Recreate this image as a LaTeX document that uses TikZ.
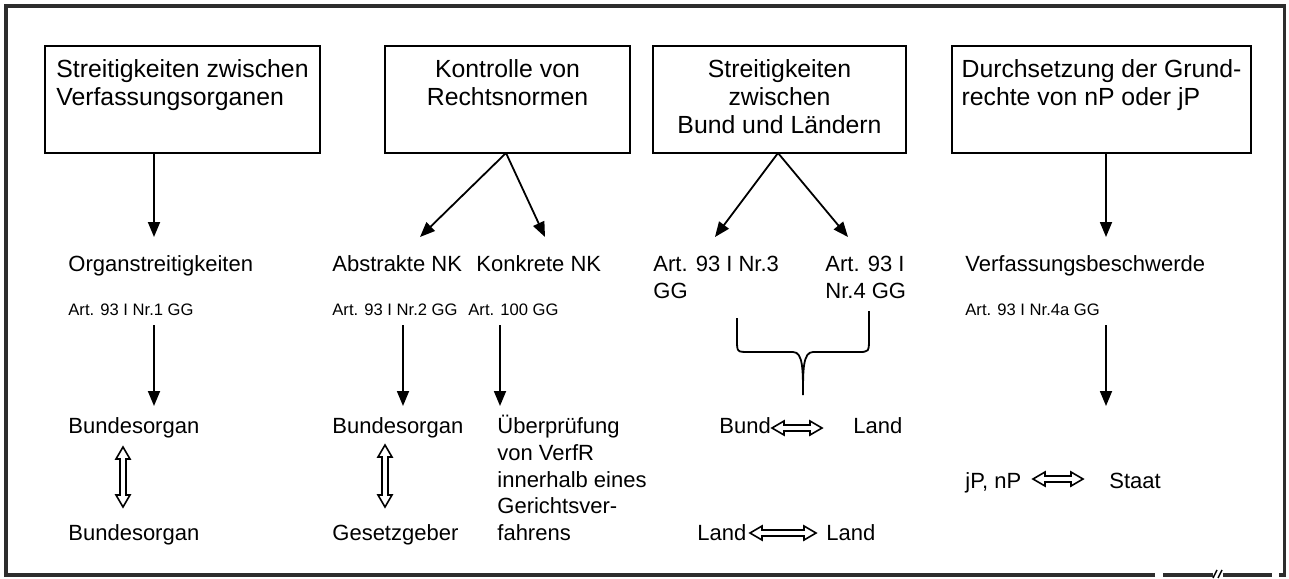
\documentclass[tikz,border=0pt]{standalone}
\usepackage{fontspec}
\setmainfont{Liberation Sans}
\usetikzlibrary{arrows.meta,calc}
\definecolor{framegray}{RGB}{45,45,45}
\newcommand\harrow[2]{\draw[dblarr] let \p1=(#1), \p2=(#2) in
  (\x1,\y1) -- (\x1+6pt,\y1+3.5pt) -- (\x1+6pt,\y1+1.5pt) -- (\x2-6pt,\y2+1.5pt) -- (\x2-6pt,\y2+3.5pt) --
  (\x2,\y2) -- (\x2-6pt,\y2-3.5pt) -- (\x2-6pt,\y2-1.5pt) -- (\x1+6pt,\y1-1.5pt) -- (\x1+6pt,\y1-3.5pt) -- cycle;}
\newcommand\varrow[2]{\draw[dblarr] let \p1=(#1), \p2=(#2) in
  (\x1,\y1) -- (\x1+3.5pt,\y1-6pt) -- (\x1+1.5pt,\y1-6pt) -- (\x2+1.5pt,\y2+6pt) -- (\x2+3.5pt,\y2+6pt) --
  (\x2,\y2) -- (\x2-3.5pt,\y2+6pt) -- (\x2-1.5pt,\y2+6pt) -- (\x1-1.5pt,\y1-6pt) -- (\x1-3.5pt,\y1-6pt) -- cycle;}
\begin{document}
\begin{tikzpicture}[x=0.5pt,y=-0.5pt,
 box/.style={draw,line width=1pt,minimum height=53.5pt,inner sep=0pt,font=\fontsize{12.4}{14}\selectfont},
 lbl/.style={anchor=base west,inner sep=0pt,font=\fontsize{11}{13}\selectfont},
 sm/.style={anchor=base west,inner sep=0pt,font=\fontsize{8.3}{10}\selectfont},
 arr/.style={line width=0.9pt,-{Triangle[length=7.5pt,width=6pt]}},
 dblarr/.style={draw,line width=0.8pt,fill=white,line join=miter},
 frame/.style={line width=1.6pt,draw=framegray},
 brace/.style={line width=0.9pt}]
\useasboundingbox (0,0) rectangle (1289,578);
% frame
\draw[frame] (1155,575) -- (6,575) -- (6,6) -- (1284.5,6) -- (1284.5,575) -- (1279,575);
\draw[frame] (1163,575) -- (1213,575);
\draw[frame] (1223,575) -- (1272,575);
\draw[line width=0.7pt] (1213,578) -- (1217,570) (1218,578) -- (1222,570);
% boxes
\node[box,minimum width=137.5pt,align=left] (b1) at (182.5,99.5) {\strut Streitigkeiten zwischen\\\strut Verfassungsorganen\\\strut};
\node[box,minimum width=122.5pt,align=center] (b2) at (507.5,99.5) {\strut Kontrolle von\\\strut Rechtsnormen\\\strut};
\node[box,minimum width=126.5pt,align=center] (b3) at (779.5,99.5) {\strut Streitigkeiten\\\strut zwischen\\\strut Bund und Ländern};
\node[box,minimum width=149.5pt,align=left] (b4) at (1101.5,99.5) {\strut Durchsetzung der Grund-\\\strut rechte von nP oder jP\\\strut};
% row 2
\node[lbl] (o1) at (68,271) {Organstreitigkeiten};
\node[lbl] (o2) at (332,271) {Abstrakte NK};
\node[lbl] (o3) at (476,271) {Konkrete NK};
\node[lbl] (o4a) at (653,271) {Art. 93 I Nr.3};
\node[lbl] (o4b) at (653,298) {GG};
\node[lbl] (o5a) at (825,271) {Art. 93 I};
\node[lbl] (o5b) at (825,298) {Nr.4 GG};
\node[lbl] (o6) at (965,271) {Verfassungsbeschwerde};
% row 3
\node[sm] (r1) at (68,315) {Art. 93 I Nr.1 GG};
\node[sm] (r2) at (332,315) {Art. 93 I Nr.2 GG};
\node[sm] (r3) at (468,315) {Art. 100 GG};
\node[sm] (r6) at (965,315) {Art. 93 I Nr.4a GG};
% row 4
\node[lbl] (u1) at (68,433) {Bundesorgan};
\node[lbl] (u2) at (332,433) {Bundesorgan};
\node[lbl] (u3a) at (497,433) {Überprüfung};
\node[lbl] (u3b) at (497,460) {von VerfR};
\node[lbl] (u3c) at (497,487) {innerhalb eines};
\node[lbl] (u3d) at (497,513) {Gerichtsver-};
\node[lbl] (u3e) at (497,540) {fahrens};
\node[lbl] (u4) at (719,433) {Bund};
\node[lbl] (u5) at (853,433) {Land};
\node[lbl] (u6) at (965,488) {jP, nP};
\node[lbl] (u7) at (1109,488) {Staat};
% row 5
\node[lbl] (w1) at (68,540) {Bundesorgan};
\node[lbl] (w2) at (332,540) {Gesetzgeber};
\node[lbl] (w4) at (697,540) {Land};
\node[lbl] (w5) at (826,540) {Land};
% arrows from boxes
\coordinate (t1) at (154,237);
\coordinate (t2a) at (420,237);
\coordinate (t2b) at (545,237);
\coordinate (t3a) at (715,237);
\coordinate (t3b) at (848,237);
\coordinate (t4) at (1106,237);
\coordinate (ap2) at (506,153);
\coordinate (ap3) at (778,153);
\draw[arr] (t1 |- b1.south) -- (t1);
\draw[arr] (ap2) -- (t2a);
\draw[arr] (ap2) -- (t2b);
\draw[arr] (ap3) -- (t3a);
\draw[arr] (ap3) -- (t3b);
\draw[arr] (t4 |- b4.south) -- (t4);
% arrows row 3 to row 4
\coordinate (s1) at (154,325); \coordinate (e1) at (154,406);
\coordinate (s2) at (403,325); \coordinate (e2) at (403,406);
\coordinate (s3) at (500,325); \coordinate (e3) at (500,406);
\coordinate (s4) at (1106,325); \coordinate (e4) at (1106,406);
\draw[arr] (s1) -- (e1);
\draw[arr] (s2) -- (e2);
\draw[arr] (s3) -- (e3);
\draw[arr] (s4) -- (e4);
% brace
\draw[brace] (737,318) -- (737,340) .. controls (737,352) .. (749,352) -- (793,352)
  .. controls (803,352) and (803,370) .. (803,395)
  .. controls (803,370) and (803,352) .. (813,352) -- (858,352)
  .. controls (869,352) .. (869,338) -- (869,311);
% double arrows
\coordinate (v1a) at (123,447); \coordinate (v1b) at (123,507);
\coordinate (v2a) at (385,445); \coordinate (v2b) at (385,507);
\varrow{v1a}{v1b}
\varrow{v2a}{v2b}
\coordinate (h1a) at (772,428); \coordinate (h1b) at (822,428);
\coordinate (h2a) at (1033,479); \coordinate (h2b) at (1083,479);
\coordinate (h3a) at (750,533); \coordinate (h3b) at (816,533);
\harrow{h1a}{h1b}
\harrow{h2a}{h2b}
\harrow{h3a}{h3b}
\end{tikzpicture}
\end{document}
